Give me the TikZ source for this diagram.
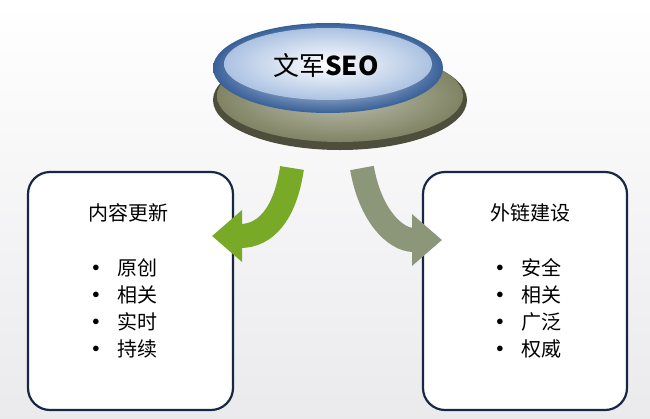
\documentclass[tikz,border=0pt]{standalone}
\usepackage{fontspec}
\newfontfamily\cjk{Noto Sans CJK SC}
\usetikzlibrary{arrows.meta,shadings}
\definecolor{navy}{RGB}{22,40,70}
\definecolor{leaf}{RGB}{120,170,40}
\definecolor{sage}{RGB}{140,150,120}
\definecolor{olive}{RGB}{128,132,100}
\definecolor{btnblue}{RGB}{70,120,190}
\tikzset{
  panel/.style={draw=navy, line width=2.2pt, rounded corners=22pt, fill=white},
  heading/.style={font=\cjk\fontsize{20}{24}\selectfont},
  item/.style={font=\cjk\fontsize{20}{24}\selectfont, anchor=west},
  dot/.style={font=\fontsize{14}{16}\selectfont},
  flowarrow/.style={line width=24pt, -{Triangle[width=50pt,length=30pt]}}
}
\begin{document}
\begin{tikzpicture}[x=1pt, y=-1pt]
  \useasboundingbox (0,0) rectangle (650,418);
  \shade[top color=white, bottom color=blue!8!gray!15] (0,0) rectangle (650,418);
  % top button
  \fill[olive!60!black] (340,100) ellipse (127 and 50);
  \shade[inner color=olive!50, outer color=olive] (340,96) ellipse (123 and 46);
  \shade[inner color=white, outer color=btnblue!80!black] (328,68) ellipse (115 and 45);
  \shade[inner color=white, outer color=btnblue!45] (328,64) ellipse (104 and 36);
  \node[font=\cjk\fontsize{26}{30}\selectfont] (root) at (326,66) {文军\textbf{SEO}};
  % panels
  \draw[panel] (28,172) rectangle (233,410);
  \draw[panel] (423,172) rectangle (627,410);
  \node[heading] (left) at (128,213) {内容更新};
  \node[heading] (right) at (530,213) {外链建设};
  \foreach \t [count=\i] in {原创,相关,实时,持续}
    {\node[dot] (lb\i) at (96,241+27*\i) {$\bullet$};
     \node[item] (l\i) at (114,241+27*\i) {\t};}
  \foreach \t [count=\i] in {安全,相关,广泛,权威}
    {\node[dot] (rb\i) at (500,241+27*\i) {$\bullet$};
     \node[item] (r\i) at (518,241+27*\i) {\t};}
  % arrows
  \coordinate (ls) at (292,168);
  \coordinate (le) at (212,236);
  \coordinate (rs) at (362,168);
  \coordinate (re) at (442,240);
  \draw[flowarrow, leaf] (ls) .. controls (285,215) and (265,236) .. (le);
  \draw[flowarrow, sage] (rs) .. controls (370,215) and (395,240) .. (re);
\end{tikzpicture}
\end{document}
